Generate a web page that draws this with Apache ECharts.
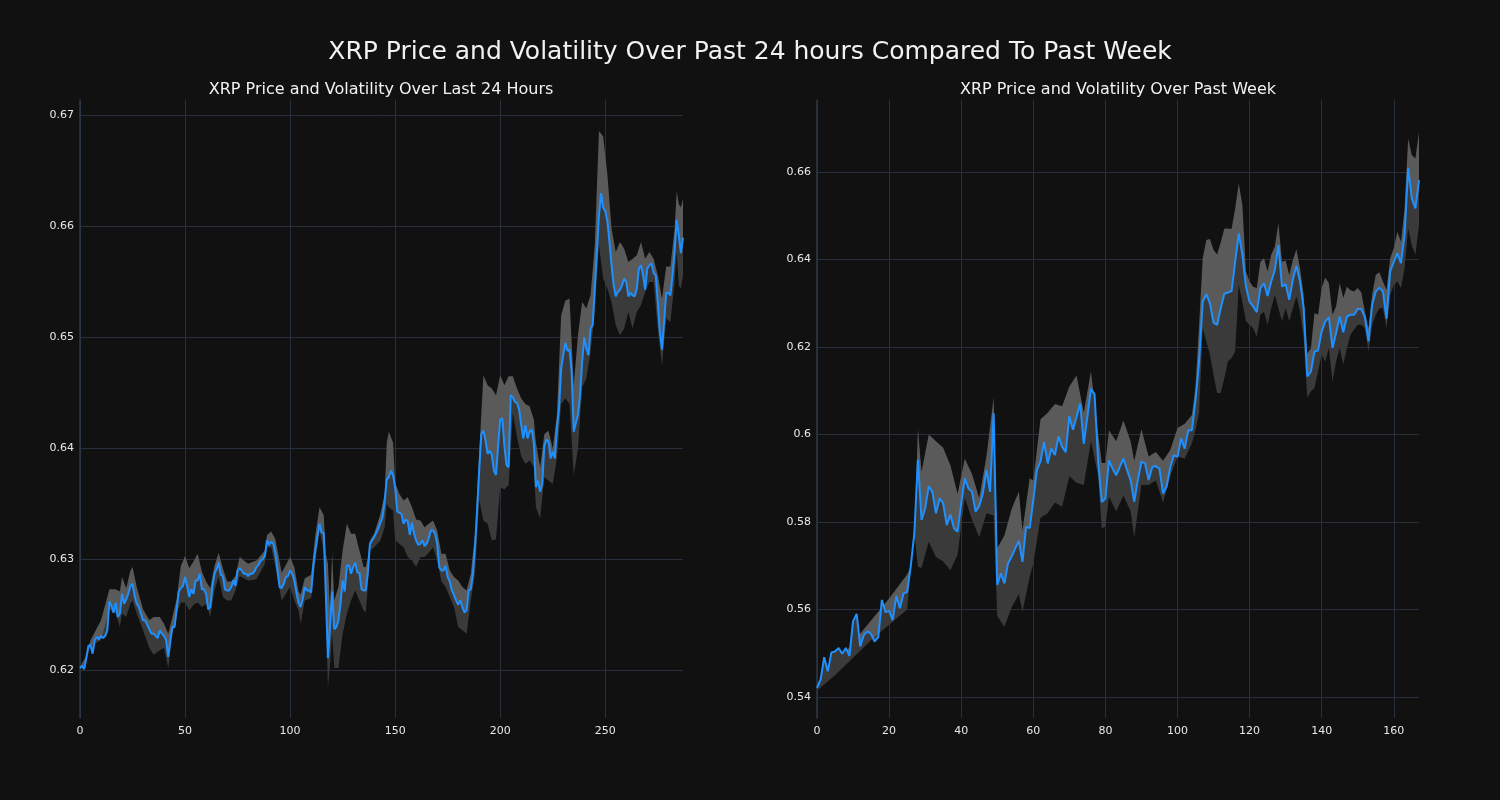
<!DOCTYPE html>
<html>
<head>
<meta charset="utf-8">
<script src="https://cdn.jsdelivr.net/npm/echarts@6/dist/echarts.min.js"></script>
<style>
html,body{margin:0;padding:0;background:#111111;}
#chart{width:1500px;height:800px;}
</style>
</head>
<body>
<div id="chart"></div>
<script>
// ---------- DATA ----------
const mainTitle = "XRP Price and Volatility Over Past 24 hours Compared To Past Week";
const leftTitle = "XRP Price and Volatility Over Last 24 Hours";
const rightTitle = "XRP Price and Volatility Over Past Week";

// Last 24 hours: price at each 5-minute step (index 0..287)
const dayPrice = [
0.6202,0.6204,0.6201,0.6211,0.6222,0.6223,0.6215,0.6227,0.6230,0.6228,
0.6231,0.6229,0.6231,0.6236,0.6262,0.6258,0.6252,0.6261,0.6248,0.6251,
0.6269,0.6260,0.6264,0.6269,0.6276,0.6278,0.6267,0.6260,0.6257,0.6251,
0.6245,0.6245,0.6241,0.6237,0.6233,0.6233,0.6231,0.6229,0.6236,0.6233,
0.6231,0.6227,0.6212,0.6227,0.6239,0.6239,0.6255,0.6271,0.6274,0.6276,
0.6284,0.6276,0.6266,0.6273,0.6269,0.6281,0.6281,0.6287,0.6273,0.6273,
0.6269,0.6255,0.6257,0.6275,0.6287,0.6291,0.6297,0.6286,0.6285,0.6273,
0.6272,0.6272,0.6275,0.6281,0.6276,0.6290,0.6292,0.6290,0.6287,0.6287,
0.6285,0.6287,0.6287,0.6289,0.6293,0.6295,0.6299,0.6300,0.6303,0.6317,
0.6313,0.6316,0.6314,0.6305,0.6290,0.6275,0.6274,0.6278,0.6284,0.6285,
0.6290,0.6287,0.6281,0.6270,0.6261,0.6257,0.6264,0.6275,0.6272,0.6272,
0.6270,0.6293,0.6308,0.6320,0.6332,0.6324,0.6324,0.6269,0.6211,0.6239,
0.6271,0.6237,0.6239,0.6245,0.6260,0.6281,0.6271,0.6294,0.6295,0.6287,
0.6293,0.6297,0.6288,0.6288,0.6273,0.6272,0.6272,0.6288,0.6314,0.6317,
0.6320,0.6324,0.6328,0.6333,0.6338,0.6352,0.6372,0.6374,0.6380,0.6376,
0.6365,0.6343,0.6342,0.6341,0.6332,0.6336,0.6334,0.6322,0.6333,0.6323,
0.6317,0.6313,0.6314,0.6317,0.6312,0.6314,0.6319,0.6326,0.6326,0.6323,
0.6314,0.6293,0.6290,0.6290,0.6294,0.6284,0.6280,0.6272,0.6268,0.6263,
0.6259,0.6263,0.6257,0.6252,0.6254,0.6272,0.6273,0.6287,0.6311,0.6344,
0.6380,0.6413,0.6416,0.6407,0.6395,0.6398,0.6394,0.6380,0.6376,0.6402,
0.6426,0.6427,0.6402,0.6385,0.6383,0.6448,0.6446,0.6442,0.6441,0.6435,
0.6421,0.6409,0.6421,0.6409,0.6415,0.6417,0.6405,0.6365,0.6371,0.6361,
0.6368,0.6402,0.6408,0.6406,0.6391,0.6397,0.6391,0.6418,0.6436,0.6472,
0.6484,0.6495,0.6488,0.6489,0.6469,0.6415,0.6423,0.6430,0.6448,0.6478,
0.6500,0.6490,0.6484,0.6508,0.6511,0.6544,0.6577,0.6610,0.6630,0.6617,
0.6614,0.6605,0.6586,0.6565,0.6547,0.6537,0.6541,0.6543,0.6547,0.6553,
0.6550,0.6537,0.6540,0.6538,0.6537,0.6544,0.6562,0.6565,0.6556,0.6543,
0.6562,0.6565,0.6567,0.6558,0.6556,0.6532,0.6505,0.6489,0.6514,0.6540,
0.6540,0.6538,0.6556,0.6577,0.6606,0.6592,0.6576,0.6590
];
// Volatility band (last 24 hours): sample positions, upper and lower edges
const dayBandX = [0,3,5,10,14,17,19,20,22,24,25,27,30,33,35,38,40,42,44,46,48,50,52,54,56,58,60,62,64,66,68,70,72,74,76,80,84,88,89,91,93,96,100,102,104,105,107,110,112,114,116,117,118,119,120,121,123,125,127,129,131,133,135,136,137,138,140,143,145,146,147,149,150,152,154,156,158,160,162,164,166,168,170,172,174,176,178,180,182,184,186,188,190,192,194,196,198,200,202,204,206,208,210,212,214,216,217,219,221,223,225,227,229,231,233,235,237,239,241,243,245,247,249,251,253,255,257,259,261,263,265,267,269,271,273,275,277,279,281,283,284,285,286,287];
const dayBandUp = [0.6203,0.6213,0.6227,0.6245,0.6273,0.6273,0.6271,0.6284,0.6274,0.6290,0.6293,0.6275,0.6255,0.6245,0.6248,0.6248,0.6242,0.6233,0.6248,0.6264,0.6294,0.6303,0.6292,0.6298,0.6305,0.6289,0.6280,0.6274,0.6294,0.6306,0.6292,0.6280,0.6280,0.6285,0.6302,0.6296,0.6299,0.6308,0.6322,0.6325,0.6318,0.6288,0.6302,0.6293,0.6271,0.6268,0.6283,0.6286,0.6322,0.6347,0.6340,0.6305,0.6296,0.6255,0.6306,0.6263,0.6275,0.6308,0.6332,0.6323,0.6323,0.6308,0.6293,0.6293,0.6302,0.6317,0.6323,0.6341,0.6359,0.6405,0.6415,0.6405,0.6369,0.6359,0.6353,0.6356,0.6347,0.6336,0.6335,0.6329,0.6332,0.6335,0.6326,0.6305,0.6305,0.6290,0.6284,0.6281,0.6275,0.6272,0.6287,0.6323,0.6396,0.6466,0.6457,0.6454,0.6448,0.6466,0.6457,0.6465,0.6465,0.6454,0.6445,0.6440,0.6438,0.6426,0.6405,0.6383,0.6413,0.6416,0.6400,0.6430,0.6520,0.6533,0.6535,0.6457,0.6502,0.6532,0.6526,0.6538,0.6583,0.6686,0.6681,0.6647,0.6598,0.6577,0.6586,0.6580,0.6568,0.6571,0.6574,0.6586,0.6571,0.6577,0.6571,0.6556,0.6535,0.6564,0.6564,0.6598,0.6632,0.6620,0.6617,0.6625];
const dayBandLo = [0.6200,0.6209,0.6222,0.6227,0.6255,0.6251,0.6239,0.6251,0.6248,0.6260,0.6263,0.6251,0.6236,0.6220,0.6214,0.6218,0.6220,0.6202,0.6233,0.6251,0.6261,0.6261,0.6254,0.6259,0.6261,0.6257,0.6260,0.6248,0.6272,0.6284,0.6266,0.6263,0.6263,0.6272,0.6285,0.6281,0.6282,0.6296,0.6311,0.6311,0.6293,0.6263,0.6275,0.6263,0.6254,0.6242,0.6263,0.6265,0.6298,0.6326,0.6308,0.6257,0.6184,0.6205,0.6233,0.6202,0.6202,0.6233,0.6251,0.6263,0.6272,0.6263,0.6254,0.6252,0.6275,0.6308,0.6311,0.6317,0.6329,0.6350,0.6347,0.6344,0.6317,0.6314,0.6311,0.6302,0.6299,0.6293,0.6302,0.6302,0.6306,0.6311,0.6299,0.6280,0.6275,0.6266,0.6257,0.6239,0.6236,0.6233,0.6263,0.6287,0.6354,0.6335,0.6332,0.6317,0.6318,0.6365,0.6363,0.6367,0.6432,0.6410,0.6393,0.6386,0.6389,0.6383,0.6347,0.6337,0.6374,0.6371,0.6368,0.6391,0.6440,0.6445,0.6440,0.6376,0.6400,0.6455,0.6463,0.6487,0.6523,0.6583,0.6553,0.6544,0.6532,0.6511,0.6502,0.6508,0.6523,0.6508,0.6523,0.6529,0.6541,0.6550,0.6550,0.6508,0.6475,0.6517,0.6514,0.6550,0.6577,0.6547,0.6544,0.6556];

// Past week: hourly price (index 0..167)
const weekPrice = [
0.5421,0.5440,0.5491,0.5459,0.5502,0.5504,0.5512,0.5499,0.5512,0.5494,
0.5573,0.5590,0.5516,0.5542,0.5550,0.5544,0.5527,0.5537,0.5622,0.5594,
0.5597,0.5576,0.5631,0.5603,0.5637,0.5640,0.5698,0.5774,0.5943,0.5805,
0.5831,0.5882,0.5869,0.5820,0.5854,0.5843,0.5793,0.5817,0.5786,0.5778,
0.5843,0.5900,0.5877,0.5869,0.5824,0.5837,0.5865,0.5919,0.5869,0.6049,
0.5656,0.5683,0.5660,0.5706,0.5721,0.5740,0.5757,0.5709,0.5789,0.5786,
0.5850,0.5919,0.5939,0.5983,0.5934,0.5968,0.5953,0.5996,0.5972,0.5960,
0.6042,0.6011,0.6040,0.6071,0.5979,0.6040,0.6105,0.6092,0.5938,0.5846,
0.5854,0.5941,0.5922,0.5907,0.5926,0.5945,0.5919,0.5896,0.5846,0.5896,
0.5938,0.5934,0.5896,0.5926,0.5928,0.5922,0.5865,0.5882,0.5926,0.5953,
0.5949,0.5991,0.5968,0.6010,0.6010,0.6078,0.6167,0.6304,0.6321,0.6300,
0.6256,0.6251,0.6289,0.6322,0.6325,0.6328,0.6395,0.6460,0.6411,0.6338,
0.6304,0.6293,0.6280,0.6335,0.6346,0.6317,0.6350,0.6376,0.6433,0.6338,
0.6344,0.6308,0.6354,0.6386,0.6350,0.6289,0.6133,0.6144,0.6190,0.6192,
0.6236,0.6259,0.6268,0.6198,0.6232,0.6270,0.6234,0.6270,0.6274,0.6274,
0.6287,0.6287,0.6268,0.6213,0.6297,0.6327,0.6336,0.6327,0.6265,0.6373,
0.6395,0.6414,0.6392,0.6456,0.6610,0.6540,0.6517,0.6582
];
// Volatility band (past week)
const weekBandX = [0,5,10,15,20,25,26,27,28,29,31,33,35,37,39,41,43,45,47,49,50,52,54,56,57,59,60,62,64,66,68,70,72,74,76,78,79,80,81,83,85,87,88,90,92,94,96,98,100,102,104,105,106,107,108,109,110,111,112,113,114,115,116,117,118,119,120,121,122,123,124,125,126,127,128,129,130,131,132,133,134,135,136,137,138,139,140,141,142,143,144,145,146,147,148,149,150,151,152,153,154,155,156,157,158,159,160,161,162,163,164,165,166,167];
const weekBandUp = [0.5425,0.5470,0.5525,0.5575,0.5625,0.5680,0.5698,0.5774,0.6014,0.5915,0.6000,0.5985,0.5970,0.5930,0.5865,0.5945,0.5910,0.5855,0.5950,0.6085,0.5740,0.5770,0.5830,0.5870,0.5780,0.5900,0.5895,0.6035,0.6050,0.6070,0.6065,0.6110,0.6135,0.6050,0.6145,0.6000,0.5935,0.5935,0.6010,0.5985,0.6032,0.5985,0.5940,0.6012,0.5950,0.5960,0.5940,0.5965,0.6015,0.6025,0.6045,0.6110,0.6250,0.6403,0.6445,0.6447,0.6422,0.6412,0.6440,0.6471,0.6471,0.6470,0.6517,0.6574,0.6525,0.6373,0.6350,0.6338,0.6335,0.6395,0.6403,0.6373,0.6411,0.6430,0.6483,0.6395,0.6398,0.6365,0.6399,0.6424,0.6380,0.6319,0.6186,0.6197,0.6278,0.6274,0.6335,0.6359,0.6346,0.6274,0.6293,0.6346,0.6313,0.6338,0.6330,0.6327,0.6335,0.6325,0.6281,0.6243,0.6320,0.6365,0.6371,0.6350,0.6331,0.6403,0.6426,0.6464,0.6441,0.6517,0.6677,0.6639,0.6631,0.6692];
const weekBandLo = [0.5415,0.5450,0.5490,0.5530,0.5565,0.5600,0.5698,0.5774,0.5698,0.5695,0.5755,0.5720,0.5710,0.5690,0.5725,0.5855,0.5805,0.5765,0.5820,0.5815,0.5585,0.5560,0.5605,0.5635,0.5595,0.5675,0.5705,0.5810,0.5820,0.5845,0.5835,0.5905,0.5890,0.5885,0.5985,0.5905,0.5785,0.5790,0.5858,0.5825,0.5860,0.5825,0.5765,0.5885,0.5885,0.5895,0.5845,0.5905,0.5950,0.5945,0.5980,0.6010,0.6050,0.6243,0.6213,0.6183,0.6137,0.6095,0.6095,0.6129,0.6167,0.6175,0.6190,0.6342,0.6304,0.6259,0.6251,0.6243,0.6224,0.6274,0.6281,0.6251,0.6289,0.6319,0.6289,0.6259,0.6289,0.6259,0.6289,0.6316,0.6282,0.6221,0.6084,0.6099,0.6106,0.6145,0.6183,0.6167,0.6198,0.6122,0.6167,0.6198,0.6160,0.6198,0.6228,0.6240,0.6251,0.6251,0.6243,0.6190,0.6251,0.6274,0.6289,0.6289,0.6243,0.6319,0.6342,0.6350,0.6335,0.6380,0.6471,0.6433,0.6411,0.6479];

// ---------- STYLE ----------
const BG = '#111111';
const LINE = '#1e90ff';
const BAND_LIGHT = '#5a5a5a';
const BAND_DARK = '#3a3a3a';
const GRIDC = '#27303b';
const TXT = '#e8e8e8';
const FONT = 'DejaVu Sans';

function bandRenderer(bx, up, lo, price) {
  return function (params, api) {
    const top = bx.map((x, i) => api.coord([x, up[i]]));
    const bot = bx.map((x, i) => api.coord([x, lo[i]]));
    const mid = [];
    for (let x = bx[0]; x <= bx[bx.length - 1]; x++) mid.push(api.coord([x, price[x]]));
    return {
      type: 'group',
      children: [
        { type: 'polygon', shape: { points: top.concat(mid.slice().reverse()) }, style: { fill: BAND_LIGHT } },
        { type: 'polygon', shape: { points: mid.concat(bot.slice().reverse()) }, style: { fill: BAND_DARK } }
      ]
    };
  };
}

function xAxisCfg(idx, max, interval) {
  return {
    type: 'value', gridIndex: idx, min: 0, max: max, interval: interval,
    axisLine: { show: false }, axisTick: { show: false },
    axisLabel: { color: TXT, fontSize: 11, fontFamily: FONT, margin: 8, showMaxLabel: false },
    splitLine: { show: true, showMaxLine: false, lineStyle: { color: GRIDC, width: 1 } }
  };
}
function yAxisCfg(idx, min, max, step) {
  return {
    type: 'value', gridIndex: idx, min: min, max: max, minInterval: step, maxInterval: step,
    axisLine: { show: true, lineStyle: { color: '#2c3744', width: 1.5 } }, axisTick: { show: false },
    axisLabel: { color: TXT, fontSize: 11, fontFamily: FONT, margin: 6, showMinLabel: false, showMaxLabel: false,
      formatter: v => String(+v.toFixed(4)) },
    splitLine: { show: true, showMinLine: false, showMaxLine: false, lineStyle: { color: GRIDC, width: 1 } }
  };
}

const chart = echarts.init(document.getElementById('chart'), null, { renderer: 'canvas' });
chart.setOption({
  backgroundColor: BG,
  animation: false,
  title: [
    { text: mainTitle, left: 'center', top: 35, textStyle: { color: '#f2f2f2', fontSize: 25, fontWeight: 'normal', fontFamily: FONT } },
    { text: leftTitle, left: 376, textAlign: 'center', top: 77, textStyle: { color: '#f2f2f2', fontSize: 16, fontWeight: 'normal', fontFamily: FONT } },
    { text: rightTitle, left: 1113, textAlign: 'center', top: 77, textStyle: { color: '#f2f2f2', fontSize: 16, fontWeight: 'normal', fontFamily: FONT } }
  ],
  grid: [
    { left: 80, top: 100, width: 603, height: 618 },
    { left: 817, top: 100, width: 602, height: 618 }
  ],
  xAxis: [xAxisCfg(0, dayPrice.length - 1, 50), xAxisCfg(1, weekPrice.length - 1, 20)],
  yAxis: [yAxisCfg(0, 0.6157, 0.6714, 0.01), yAxisCfg(1, 0.5352, 0.6765, 0.02)],
  series: [
    { type: 'custom', xAxisIndex: 0, yAxisIndex: 0, silent: true, z: 1,
      renderItem: bandRenderer(dayBandX, dayBandUp, dayBandLo, dayPrice), data: [[0, dayPrice[0]]] },
    { type: 'line', xAxisIndex: 0, yAxisIndex: 0, z: 3, showSymbol: false, silent: true,
      lineStyle: { color: LINE, width: 2 }, data: dayPrice.map((v, i) => [i, v]) },
    { type: 'custom', xAxisIndex: 1, yAxisIndex: 1, silent: true, z: 1,
      renderItem: bandRenderer(weekBandX, weekBandUp, weekBandLo, weekPrice), data: [[0, weekPrice[0]]] },
    { type: 'line', xAxisIndex: 1, yAxisIndex: 1, z: 3, showSymbol: false, silent: true,
      lineStyle: { color: LINE, width: 2 }, data: weekPrice.map((v, i) => [i, v]) }
  ]
});
</script>
</body>
</html>
